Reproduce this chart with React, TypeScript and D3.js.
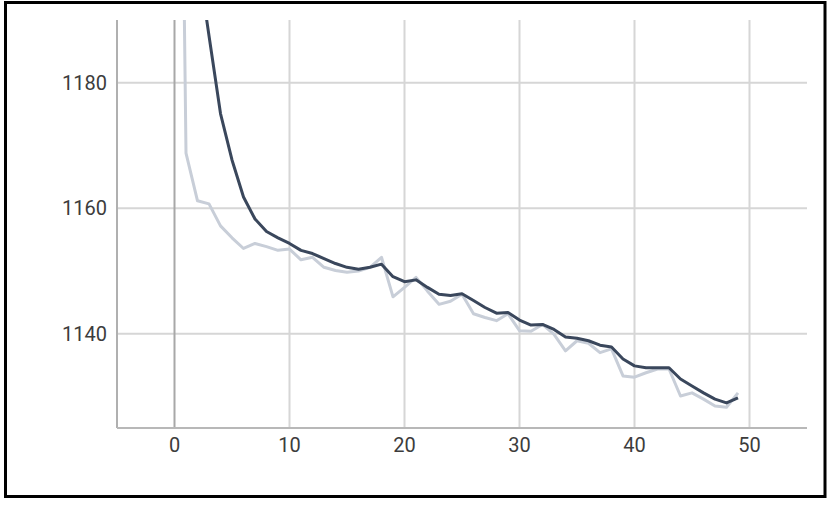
import React from "react";
import * as d3 from "d3";

const steps: number[] = Array.from({ length: 50 }, (_, i) => i);

const rawValues: number[] = [
  1320, 1168.8, 1161.2, 1160.7, 1157.2, 1155.3, 1153.6, 1154.4, 1153.9, 1153.3,
  1153.5, 1151.8, 1152.2, 1150.6, 1150.1, 1149.8, 1150.0, 1150.6, 1152.2, 1145.9,
  1147.4, 1149.0, 1146.8, 1144.7, 1145.2, 1146.3, 1143.2, 1142.6, 1142.1, 1143.2,
  1140.5, 1140.4, 1141.5, 1139.9, 1137.3, 1138.9, 1138.5, 1137.0, 1137.6, 1133.3,
  1133.1, 1133.8, 1134.4, 1134.4, 1130.1, 1130.6, 1129.6, 1128.5, 1128.3, 1130.6,
];

const smoothedValues: number[] = [
  1320, 1230, 1200, 1187.5, 1175.1, 1167.7, 1161.8, 1158.3, 1156.3, 1155.3,
  1154.4, 1153.3, 1152.8, 1152.0, 1151.2, 1150.6, 1150.3, 1150.6, 1151.1, 1149.1,
  1148.3, 1148.6, 1147.4, 1146.3, 1146.1, 1146.4, 1145.3, 1144.2, 1143.3, 1143.4,
  1142.2, 1141.4, 1141.5, 1140.7, 1139.5, 1139.3, 1138.9, 1138.2, 1137.9, 1136.0,
  1134.9, 1134.6, 1134.6, 1134.6, 1132.8, 1131.7, 1130.6, 1129.6, 1129.0, 1129.8,
];

const xTicks: number[] = [0, 10, 20, 30, 40, 50];
const yTicks: number[] = [1140, 1160, 1180];

const W = 830;
const H = 507;
const left = 117;
const right = 807;
const top = 20;
const bottom = 428;

export default function App() {
  const x = d3.scaleLinear().domain([-5, 55]).range([left, right]);
  const y = d3.scaleLinear().domain([1125, 1190]).range([bottom, top]);

  const line = d3
    .line<number>()
    .x((_, i) => x(steps[i]))
    .y((d) => y(d));

  const font = "Roboto, 'Noto Sans', sans-serif";

  return (
    <div style={{ position: "fixed", left: 0, top: 0, width: W, height: H, background: "#fff" }}>
      <svg width={W} height={H} style={{ display: "block" }}>
        <defs>
          <clipPath id="plot">
            <rect x={left} y={top} width={right - left} height={bottom - top} />
          </clipPath>
        </defs>
        <rect x={0} y={0} width={W} height={H} fill="#fff" />
        {yTicks.map((t) => (
          <line key={"hy" + t} x1={left} x2={right} y1={y(t)} y2={y(t)} stroke="#d6d6d6" strokeWidth={2} />
        ))}
        {xTicks.map((t) => (
          <line
            key={"vx" + t}
            x1={x(t)}
            x2={x(t)}
            y1={top}
            y2={bottom}
            stroke={t === 0 ? "#a8a8a8" : "#d6d6d6"}
            strokeWidth={2}
          />
        ))}
        <line x1={left} x2={left} y1={top} y2={bottom} stroke="#b0b0b0" strokeWidth={2} />
        <line x1={left} x2={right} y1={bottom} y2={bottom} stroke="#b8b8b8" strokeWidth={2} />

        <g clipPath="url(#plot)">
          <path d={line(rawValues) || ""} fill="none" stroke="#c8ced8" strokeWidth={3} strokeLinejoin="round" />
          <path d={line(smoothedValues) || ""} fill="none" stroke="#3a475c" strokeWidth={3} strokeLinejoin="round" />
        </g>

        {yTicks.map((t) => (
          <text
            key={"ly" + t}
            x={left - 10}
            y={y(t)}
            dy="0.35em"
            textAnchor="end"
            fontFamily={font}
            fontSize={20}
            fill="#3c3c3c"
          >
            {t}
          </text>
        ))}
        {xTicks.map((t) => (
          <text
            key={"lx" + t}
            x={x(t)}
            y={bottom + 24}
            textAnchor="middle"
            fontFamily={font}
            fontSize={20}
            fill="#3c3c3c"
          >
            {t}
          </text>
        ))}

        <rect x={5.5} y={2.5} width={819.5} height={494} fill="none" stroke="#000" strokeWidth={3} />
      </svg>
    </div>
  );
}
